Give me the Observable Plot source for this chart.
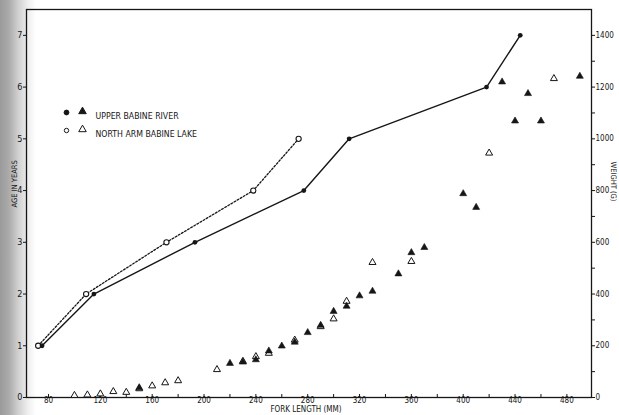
<!DOCTYPE html>
<html>
<head>
<meta charset="utf-8">
<script src="https://cdn.jsdelivr.net/npm/d3@7"></script>
<script src="https://cdn.jsdelivr.net/npm/@observablehq/plot@0.6"></script>
<style>
  html, body { margin: 0; padding: 0; }
  body {
    width: 619px; height: 415px; overflow: hidden;
    background: linear-gradient(to right, #9a9a9a 0px, #ababab 9px, #cfcfcf 18px, #efefef 28px, #ffffff 36px);
  }
  #chart svg { display: block; }
</style>
</head>
<body>
<div id="chart"></div>
<script>
// Age (years) at fork length (mm)
const ages = [1, 2, 3, 4, 5, 6, 7];
const upperAgeLength = [75, 115, 193, 277, 312, 418, 444];
const northAgeLength = [72, 109, 171, 238, 273];

// Weight (g) at fork length (mm)
const upperWeightLength = [150, 220, 230, 240, 250, 260, 270, 280, 290, 300, 310, 320, 330, 350, 360, 370, 400, 410, 430, 440, 450, 460, 490];
const upperWeight =       [38, 132, 137, 146, 180, 199, 214, 251, 279, 333, 353, 393, 411, 478, 560, 580, 788, 735, 1220, 1069, 1175, 1069, 1242];
const northWeightLength = [100, 110, 120, 130, 140, 150, 160, 170, 180, 210, 230, 240, 250, 270, 290, 300, 310, 330, 360, 420, 470];
const northWeight =       [8, 10, 14, 23, 20, 34, 45, 57, 65, 108, 140, 158, 171, 222, 274, 304, 372, 522, 526, 945, 1233];

// Axis ticks
const lengthLabels = [80, 120, 160, 200, 240, 280, 320, 360, 400, 440, 480];
const lengthTicks = d3.range(80, 481, 20);
const ageTicks = [0, 1, 2, 3, 4, 5, 6, 7];
const weightLabels = [0, 200, 400, 600, 800, 1000, 1200, 1400];
const weightMinor = [100, 300, 500, 700, 900, 1100, 1300];

// The age and weight axes share one frame: one year of age spans 200 g
const gramsPerYear = 200;

const legendRows = [
  {label: "UPPER BABINE RIVER", open: false},
  {label: "NORTH ARM BABINE LAKE", open: true}
];

const ink = "#161616";
const font = "'DejaVu Sans Condensed', 'DejaVu Sans', sans-serif";

const upperAge = ages.slice(0, upperAgeLength.length).map((a, i) => ({len: upperAgeLength[i], age: a}));
const northAge = ages.slice(0, northAgeLength.length).map((a, i) => ({len: northAgeLength[i], age: a}));
const upperW = upperWeightLength.map((l, i) => ({len: l, w: upperWeight[i]}));
const northW = northWeightLength.map((l, i) => ({len: l, w: northWeight[i]}));

const chart = Plot.plot({
  width: 619,
  height: 415,
  marginLeft: 26,
  marginRight: 28,
  marginTop: 9,
  marginBottom: 18,
  style: {background: "transparent", fontFamily: font, color: ink},
  x: {domain: [63, 499]},
  y: {domain: [0, 7.5]},
  marks: [
    Plot.frame({stroke: ink, strokeWidth: 1.3}),
    // bottom axis: labels every 40 mm, short inward ticks every 20 mm
    Plot.axisX(lengthLabels, {anchor: "bottom", tickSize: 0, tickPadding: 0, fontSize: 8, label: null}),
    Plot.axisX(lengthTicks, {anchor: "bottom", tickSize: -3, tickFormat: () => "", label: null, strokeWidth: 1}),
    // left age axis
    Plot.axisY(ageTicks, {anchor: "left", tickSize: 3, tickPadding: 1, fontSize: 9, label: null, tickFormat: d3.format("d")}),
    // right weight axis
    Plot.axisY(weightLabels.map(w => w / gramsPerYear), {
      anchor: "right", tickSize: 3, tickPadding: 1, fontSize: 8, label: null,
      tickFormat: d => String(Math.round(d * gramsPerYear))
    }),
    Plot.axisY(weightMinor.map(w => w / gramsPerYear), {anchor: "right", tickSize: 3, tickFormat: () => "", label: null}),
    // axis titles
    Plot.text(["FORK LENGTH (MM)"], {frameAnchor: "bottom", dx: -3, dy: 14.5, fontSize: 8, fill: ink}),
    Plot.text(["AGE IN YEARS"], {frameAnchor: "left", rotate: -90, dx: -12, dy: 4, fontSize: 7.5, fill: ink}),
    Plot.text(["WEIGHT (G)"], {frameAnchor: "right", rotate: 90, dx: 22, dy: -2, fontSize: 7.5, fill: ink}),
    // age–length curves
    Plot.line(northAge, {x: "len", y: "age", stroke: ink, strokeWidth: 1.3, strokeDasharray: "1.8,1.8"}),
    Plot.line(upperAge, {x: "len", y: "age", stroke: ink, strokeWidth: 1.4}),
    Plot.dot(northAge, {x: "len", y: "age", r: 2.6, fill: "white", stroke: ink, strokeWidth: 1.1}),
    Plot.dot(upperAge, {x: "len", y: "age", r: 2.4, fill: ink, stroke: "none"}),
    // weight–length points
    Plot.dot(northW, {x: "len", y: d => d.w / gramsPerYear, symbol: "triangle", r: 2.6, fill: "white", stroke: ink, strokeWidth: 1}),
    Plot.dot(upperW, {x: "len", y: d => d.w / gramsPerYear, symbol: "triangle", r: 2.6, fill: ink, stroke: ink, strokeWidth: 0.6})
  ]
});

// key, drawn as an overlay of plot marks at the upper left of the frame
const legend = Plot.plot({
  width: 619, height: 415, margin: 0,
  style: {background: "transparent", fontFamily: font, color: ink, position: "absolute", left: "0px", top: "0px"},
  x: {axis: null}, y: {axis: null},
  marks: legendRows.flatMap((row, i) => [
    Plot.dot([row], {frameAnchor: "top-left", dx: 66, dy: 112 + 18 * i, r: row.open ? 2.2 : 2.4,
      fill: row.open ? "white" : ink, stroke: ink, strokeWidth: 1}),
    Plot.dot([row], {frameAnchor: "top-left", dx: 82, dy: 111 + 18 * i, symbol: "triangle", r: 2.8,
      fill: row.open ? "white" : ink, stroke: ink, strokeWidth: 1}),
    Plot.text([row], {frameAnchor: "top-left", dx: 95, dy: 112 + 18 * i, text: "label", textAnchor: "start",
      fontSize: 8.7, fill: ink})
  ])
});

const holder = document.getElementById("chart");
holder.style.position = "relative";
holder.append(chart, legend);
</script>
</body>
</html>
